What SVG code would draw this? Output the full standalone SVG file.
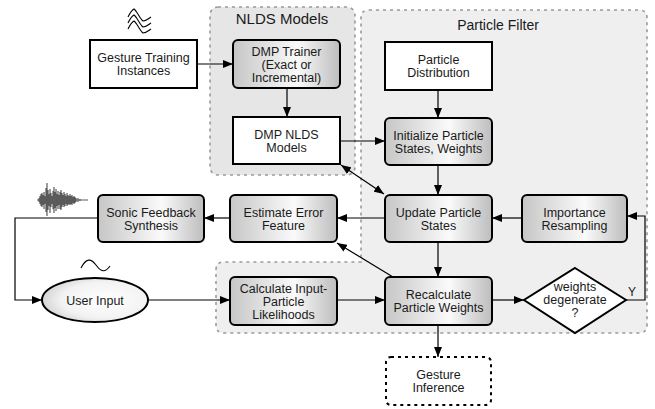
<svg xmlns="http://www.w3.org/2000/svg" width="655" height="409" viewBox="0 0 655 409">
<defs>
<linearGradient id="g" x1="0" y1="0" x2="1" y2="0">
<stop offset="0" stop-color="#c6c6c6"/>
<stop offset="0.6" stop-color="#fafafa"/>
<stop offset="1" stop-color="#bdbdbd"/>
</linearGradient>
<radialGradient id="ge" cx="0.6" cy="0.5" r="0.7">
<stop offset="0" stop-color="#ffffff"/>
<stop offset="0.6" stop-color="#f2f2f2"/>
<stop offset="1" stop-color="#c4c4c4"/>
</radialGradient>
<marker id="a" viewBox="0 0 10 8" refX="10" refY="4" markerWidth="10" markerHeight="8" markerUnits="userSpaceOnUse" orient="auto-start-reverse">
<path d="M0,0 L10,4 L0,8 Z" fill="#000"/>
</marker>
<style>
text{font-family:"Liberation Sans",Arial,sans-serif;font-size:12.5px;fill:#1a1a1a;text-anchor:middle}
.t{font-size:15px}
.grp{stroke:#9a9a9a;stroke-width:1.6;stroke-dasharray:3 4}
.w{fill:#fff;stroke:#000;stroke-width:2}
.r{fill:url(#g);stroke:#000;stroke-width:2}
.c{fill:none;stroke:#000;stroke-width:1.2}
.ca{fill:none;stroke:#000;stroke-width:1.2;marker-end:url(#a)}
.ic{fill:none;stroke:#000;stroke-width:1.1}
</style>
</defs>
<g id="group-particle-filter">
<path class="grp" fill="#efefef" d="M369,10 H639 Q647,10 647,18 V325 Q647,333 639,333 H224 Q216,333 216,325 V270 Q216,262 224,262 H361 V18 Q361,10 369,10 Z"/>
<text class="t" x="498" y="30" style="font-size:14px">Particle Filter</text>
</g>
<g id="group-nlds">
<rect class="grp" fill="#e6e6e6" x="210" y="7" width="145" height="168" rx="8"/>
<text class="t" x="282" y="24">NLDS Models</text>
</g>
<g id="icons">
<path class="ic" d="M128,17 C130,13 132,10 134,9 C137,11 140,19 143,21 C146,21 148,19 151,17"/>
<path class="ic" d="M128,23 C130,19 132,16 134,15 C137,17 140,25 143,27 C146,27 148,25 151,23"/>
<path class="ic" d="M128,29 C130,25 132,22 134,21 C137,23 140,31 143,33 C146,33 148,31 151,29"/>
<path class="ic" d="M81,268 C86,258 91,258 96,265 S105,273 110,266"/>
<path fill="none" stroke="#5a5a5a" stroke-width="1.2" d="M37,200 H88 M39,198 V202 M40,196 V204 M41,194 V206 M42,193 V207 M43,195 V205 M44,192 V209 M45,196 V204 M46,188 V212 M47,183 V216 M48,190 V210 M49,194 V206 M50,189 V213 M51,193 V207 M52,196 V204 M53,191 V209 M54,187 V213 M55,192 V208 M56,189 V211 M57,194 V206 M58,191 V209 M59,195 V205 M60,192 V209 M61,190 V210 M62,193 V207 M63,195 V205 M64,192 V207 M65,194 V206 M66,196 V204 M67,193 V206 M68,195 V205 M69,196 V204 M70,194 V205 M71,196 V204 M72,195 V205 M73,197 V203 M74,196 V204 M75,197 V203 M76,198 V202 M78,198 V202 M80,199 V201"/>
</g>
<g id="connectors">
<path class="ca" d="M197,64 H233"/>
<path class="ca" d="M287,88 V117"/>
<path class="ca" d="M438,90 V118"/>
<path class="ca" d="M340,141 H385"/>
<path class="ca" d="M438,165 V195"/>
<path class="ca" d="M341,165 L384,194" marker-start="url(#a)"/>
<path class="ca" d="M385,218 H337"/>
<path class="ca" d="M522,218 H492"/>
<path class="ca" d="M438,242 V277"/>
<path class="ca" d="M393,277 L337,243"/>
<path class="ca" d="M230,218 H204"/>
<path class="ca" d="M98,218 H15 V300 H42"/>
<path class="ca" d="M148,300 H230"/>
<path class="ca" d="M337,300 H385"/>
<path class="ca" d="M492,300 H524"/>
<path class="ca" d="M626,300 H645 V216 H627"/>
<path class="ca" d="M438,325 V357"/>
<text x="632" y="296" style="font-size:12px">Y</text>
</g>
<g id="gesture-training">
<rect class="w" x="90" y="40" width="107" height="48"/>
<text x="143.5" y="62">Gesture Training</text>
<text x="143.5" y="75">Instances</text>
</g>
<g id="dmp-trainer">
<rect class="r" x="233" y="40" width="107" height="48" rx="5"/>
<text x="286.5" y="55.5">DMP Trainer</text>
<text x="286.5" y="68.5">(Exact or</text>
<text x="286.5" y="81.5">Incremental)</text>
</g>
<g id="dmp-nlds">
<rect class="w" x="233" y="117" width="107" height="47"/>
<text x="286.5" y="138.5">DMP NLDS</text>
<text x="286.5" y="151.5">Models</text>
</g>
<g id="particle-distribution">
<rect class="w" x="385" y="42" width="107" height="48"/>
<text x="438.5" y="64">Particle</text>
<text x="438.5" y="77">Distribution</text>
</g>
<g id="initialize">
<rect class="r" x="385" y="118" width="107" height="47" rx="5"/>
<text x="438.5" y="139.5">Initialize Particle</text>
<text x="438.5" y="152.5">States, Weights</text>
</g>
<g id="update">
<rect class="r" x="385" y="195" width="107" height="47" rx="5"/>
<text x="438.5" y="216.5">Update Particle</text>
<text x="438.5" y="229.5">States</text>
</g>
<g id="importance">
<rect class="r" x="522" y="195" width="105" height="47" rx="5"/>
<text x="574.5" y="216.5">Importance</text>
<text x="574.5" y="229.5">Resampling</text>
</g>
<g id="estimate-error">
<rect class="r" x="230" y="195" width="107" height="47" rx="5"/>
<text x="283.5" y="216.5">Estimate Error</text>
<text x="283.5" y="229.5">Feature</text>
</g>
<g id="sonic-feedback">
<rect class="r" x="98" y="195" width="106" height="47" rx="5"/>
<text x="151" y="216.5">Sonic Feedback</text>
<text x="151" y="229.5">Synthesis</text>
</g>
<g id="user-input">
<ellipse cx="95" cy="300" rx="53" ry="22" fill="url(#ge)" stroke="#000" stroke-width="2"/>
<text x="95" y="304.5">User Input</text>
</g>
<g id="calculate">
<rect class="r" x="230" y="277" width="107" height="48" rx="5"/>
<text x="283.5" y="292.5">Calculate Input-</text>
<text x="283.5" y="305.5">Particle</text>
<text x="283.5" y="318.5">Likelihoods</text>
</g>
<g id="recalculate">
<rect class="r" x="385" y="277" width="107" height="48" rx="5"/>
<text x="438.5" y="299">Recalculate</text>
<text x="438.5" y="312">Particle Weights</text>
</g>
<g id="degenerate">
<path d="M575,268 L626,300 L575,333 L524,300 Z" fill="#fff" stroke="#000" stroke-width="2"/>
<text x="575" y="291">weights</text>
<text x="575" y="304">degenerate</text>
<text x="575" y="317">?</text>
</g>
<g id="gesture-inference">
<rect x="386" y="357" width="105" height="48" rx="5" fill="#fff" stroke="#000" stroke-width="2" stroke-dasharray="3 4"/>
<text x="438.5" y="378.5">Gesture</text>
<text x="438.5" y="391.5">Inference</text>
</g>
</svg>
